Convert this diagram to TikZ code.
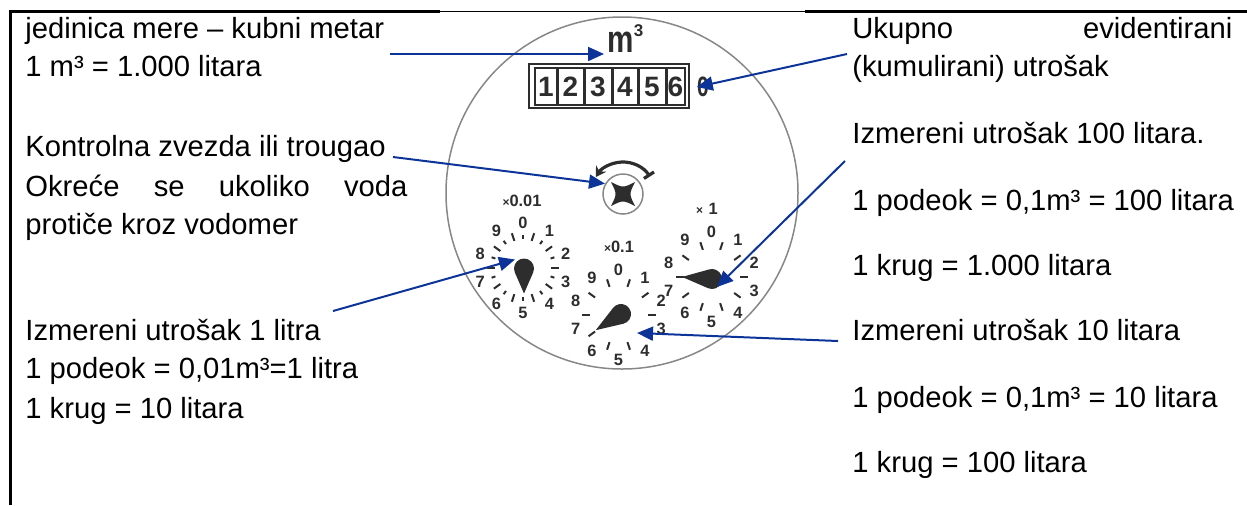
\documentclass[tikz,border=0pt]{standalone}
\usepackage{fontspec}
\setmainfont{Liberation Sans}
\usetikzlibrary{arrows.meta, positioning}

\definecolor{arrowblue}{RGB}{12,52,152}
\definecolor{rimgray}{RGB}{135,135,135}
\definecolor{ink}{RGB}{45,45,45}

\begin{document}
\begin{tikzpicture}[x=0.5pt, y=0.5pt,
    txt/.style={anchor=base west, inner sep=0pt, font=\fontsize{14.6pt}{17pt}\selectfont},
    callout/.style={arrowblue, line width=1pt, -{Triangle[length=8pt, width=7pt]}},
    num/.style={inner sep=0pt, text=ink, font=\fontsize{8.2pt}{9pt}\selectfont\bfseries},
    digit/.style={inner sep=0pt, text=ink, font=\fontsize{14pt}{14pt}\selectfont\bfseries},
    tick/.style={ink, line width=1pt},
    hand/.style={fill=ink}]
    \useasboundingbox (0,0) rectangle (1247,-505);

    % frame
    \draw[line width=1.1pt] (9,-11.5) -- (440,-11.5);
    \draw[line width=0.6pt] (440,-11.5) -- (805,-11.5);
    \draw[line width=1.1pt] (805,-11.5) -- (1247,-11.5);
    \draw[line width=1.5pt] (10,-11) -- (10,-505);

    % left column
    \node[txt] (l1) at (25,-38) {jedinica mere – kubni metar};
    \node[txt] (l2) at (25,-76) {1 m³ = 1.000 litara};
    \node[txt] (l3) at (25,-156) {Kontrolna zvezda ili trougao};
    \node[txt] (l4) at (25,-196) {\makebox[191pt][s]{Okreće se ukoliko voda}};
    \node[txt] (l5) at (25,-234) {protiče kroz vodomer};
    \node[txt] (l6) at (25,-340) {Izmereni utrošak 1 litra};
    \node[txt] (l7) at (25,-378) {1 podeok = 0,01m³=1 litra};
    \node[txt] (l8) at (25,-418) {1 krug = 10 litara};

    % right column
    \node[txt] (r1) at (852,-38) {\makebox[190pt][s]{Ukupno evidentirani}};
    \node[txt] (r2) at (852,-76) {(kumulirani) utrošak};
    \node[txt] (r3) at (852,-143) {Izmereni utrošak 100 litara.};
    \node[txt] (r4) at (852,-210) {1 podeok = 0,1m³ = 100 litara};
    \node[txt] (r5) at (852,-275) {1 krug = 1.000 litara};
    \node[txt] (r6) at (852,-340) {Izmereni utrošak 10 litara};
    \node[txt] (r7) at (852,-407) {1 podeok = 0,1m³ = 10 litara};
    \node[txt] (r8) at (852,-472) {1 krug = 100 litara};

    % meter face
    \draw[rimgray, line width=0.75pt] (622,-193) circle[radius=176];
    \node[inner sep=0pt, anchor=base west, text=ink] (m3) at (607,-52)
        {\scalebox{0.78}[1]{\fontsize{19pt}{19pt}\selectfont\bfseries m}\raisebox{8pt}{\fontsize{8.5pt}{9pt}\selectfont\bfseries 3}};

    % counter
    \draw[ink, line width=0.8pt] (529,-64) rectangle (689,-108);
    \draw[ink, line width=0.6pt] (535,-68) rectangle (685,-105);
    \foreach \x in {557,584,612,638,666}
        \draw[ink, line width=1.5pt] (\x,-68) -- (\x,-105);
    \foreach \d/\x in {1/546,2/570.5,3/598,4/625,5/652,6/675.5}
        \node[digit] (c\d) at (\x,-87) {\d};
    \node[digit] (roll) at (703,-87) {\scalebox{0.75}[1]{0}};

    % control star
    \node[circle, draw=rimgray, line width=0.75pt, inner sep=0pt, minimum size=20pt] (ctrl) at (623,-194) {};
    \fill[ink, shift={(623,-194)}] (-12,12) .. controls (0,6) .. (12,12) .. controls (6,0) .. (12,-12)
        .. controls (0,-6) .. (-12,-12) .. controls (-6,0) .. cycle;
    \draw[ink, line width=1.6pt, {Bar[width=6pt]}-{Stealth[length=5pt, width=6pt]}]
        ([shift={(33:32)}]ctrl.center) arc[start angle=33, end angle=148, radius=32];

    % dial x0.01
    \node[num] (s1) at (522,-201) {{\fontsize{6pt}{6pt}\selectfont ×}0.01};
    \begin{scope}[shift={(523,-267.5)}]
        \foreach \d in {0,...,9}
            \node[num] at ({90-36*\d}:45) {\d};
        \foreach \a in {0,36,...,324}
            \draw[tick] (\a:28) -- (\a:36);
        \foreach \a in {18,54,...,342}
            \draw[tick] (\a:29) -- (\a:33);
    \end{scope}
    \coordinate (h1) at (524,-268.5);
    \fill[hand, shift={(h1)}, rotate=-90] (25,0) -- (66.4:10) arc[start angle=66.4, end angle=293.6, radius=10] -- cycle;

    % dial x0.1
    \node[num] (s2) at (619,-247) {{\fontsize{6pt}{6pt}\selectfont ×}0.1};
    \begin{scope}[shift={(618.5,-314.5)}]
        \foreach \d in {0,...,9}
            \node[num] at ({90-36*\d}:45) {\d};
        \foreach \a in {0,36,...,324}
            \draw[tick] (\a:29) -- (\a:37);
    \end{scope}
    \coordinate (h2) at (621,-314);
    \fill[hand, shift={(h2)}, rotate=212.6] (30,0) -- (70.5:10) arc[start angle=70.5, end angle=289.5, radius=10] -- cycle;

    % dial x1
    \node[num] (s3) at (707,-209) {{\fontsize{6pt}{6pt}\selectfont ×}\,\,1};
    \begin{scope}[shift={(711.5,-276.5)}]
        \foreach \d in {0,...,9}
            \node[num] at ({90-36*\d}:45) {\d};
        \foreach \a in {0,36,...,324}
            \draw[tick] (\a:28) -- (\a:36);
    \end{scope}
    \coordinate (h3) at (712,-279);
    \fill[hand, shift={(h3)}, rotate=176] (30,0) -- (70.5:10) arc[start angle=70.5, end angle=289.5, radius=10] -- cycle;

    % callouts
    \coordinate (a1) at (390,-54);
    \coordinate (a2) at (847,-54);
    \coordinate (a3) at (393,-157);
    \coordinate (a4) at (333,-311);
    \coordinate (a5) at (845,-161);
    \coordinate (a6) at (838,-341);
    \coordinate (mtip) at (604,-54);
    \draw[callout] (a1) -- (mtip);
    \draw[callout] (a2) -- (roll.west);
    \draw[callout] (a3) -- (ctrl.150);
    \draw[callout] (a4) -- ([shift={(-9,9)}]h1);
    \draw[callout] (a5) -- ([shift={(5,-8)}]h3);
    \draw[callout] (a6) -- ([shift={(16,-19)}]h2);
\end{tikzpicture}
\end{document}
